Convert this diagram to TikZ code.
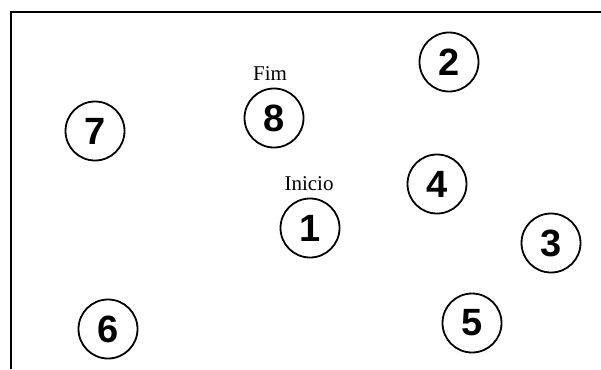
\documentclass[tikz,border=0pt]{standalone}
\usepackage{fontspec}
\setmainfont{Liberation Serif}
\newfontfamily\digitfont{Liberation Sans}
\begin{document}
\begin{tikzpicture}[x=1pt,y=-1pt,
  city/.style={circle,draw,line width=1.8pt,minimum size=59pt,inner sep=0pt,
    font=\digitfont\bfseries\fontsize{38}{38}\selectfont},
  lbl/.style={inner sep=0pt,font=\fontsize{21}{21}\selectfont},
  frame/.style={line width=2pt}]
\useasboundingbox (0,0) rectangle (601,369);
\coordinate (fb) at (11,369);
\coordinate (ftl) at (11,12);
\coordinate (ftr) at (601,12);
\draw[frame] (fb) -- (ftl) -- (ftr);
\node[city] (n2) at (449,62) {2};
\node[city] (n8) at (274,118) {8};
\node[lbl] (fim) at (270,74) {Fim};
\node[city] (n7) at (95,131) {7};
\node[city] (n4) at (437,184) {4};
\node[lbl] (inicio) at (309,184) {Inicio};
\node[city] (n1) at (310,228) {1};
\node[city] (n3) at (551,243) {3};
\node[city] (n6) at (108,329) {6};
\node[city] (n5) at (472,323) {5};
\end{tikzpicture}
\end{document}
